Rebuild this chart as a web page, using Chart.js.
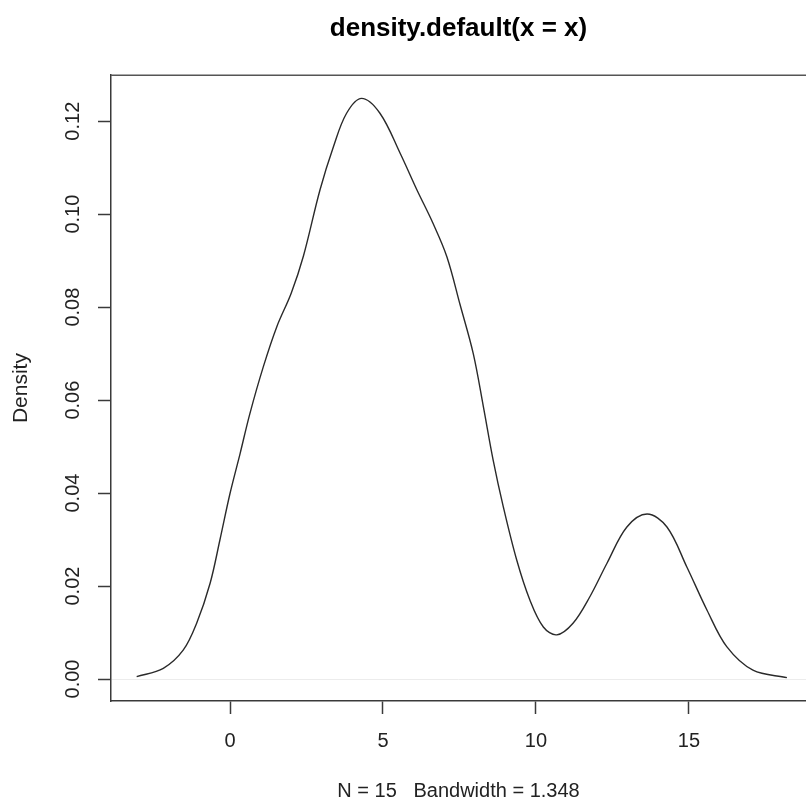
<!DOCTYPE html>
<html>
<head>
<meta charset="utf-8">
<script src="https://cdn.jsdelivr.net/npm/chart.js@4/dist/chart.umd.min.js"></script>
<style>
  html, body { margin: 0; padding: 0; background: #fff; overflow: hidden; }
  #wrap { width: 806px; height: 802px; position: relative; }
</style>
</head>
<body>
<div id="wrap"><canvas id="c" width="806" height="802"></canvas></div>
<script>
// ---- data ----
const densityX = [-3.05, -2.18, -1.53, -1.09, -0.65, -0.33, 0.00, 0.33, 0.65, 1.09, 1.53, 2.00, 2.40, 2.94, 3.38, 3.81, 4.30,
                  4.90, 5.56, 6.11, 6.63, 7.09, 7.52, 7.95, 8.28, 8.60, 8.93, 9.37, 9.80, 10.24, 10.68,
                  11.21, 11.76, 12.32, 12.97, 13.63, 14.28, 14.93, 15.59, 16.24, 17.09, 18.20];
const densityY = [0.0005, 0.0023, 0.0062, 0.0120, 0.0206, 0.0299, 0.0399, 0.0485, 0.0571, 0.0672, 0.0758, 0.0830, 0.0910, 0.1052, 0.1145, 0.1217, 0.1249,
                  0.1217, 0.1131, 0.1052, 0.0981, 0.0908, 0.0805, 0.0700, 0.0586, 0.0471, 0.0371, 0.0256, 0.0170, 0.0112, 0.0095,
                  0.0120, 0.0177, 0.0249, 0.0327, 0.0355, 0.0327, 0.0241, 0.0148, 0.0069, 0.0019, 0.0003];
const xTickValues = [0, 5, 10, 15];
const yTickValues = [0, 0.02, 0.04, 0.06, 0.08, 0.10, 0.12];
const yTickLabels = ['0.00', '0.02', '0.04', '0.06', '0.08', '0.10', '0.12'];
const chartTitle = 'density.default(x = x)';
const xAxisTitle = 'N = 15   Bandwidth = 1.348';
const yAxisTitle = 'Density';

const FONT = "'Liberation Sans', Arial, Helvetica, sans-serif";
const AXIS = '#3a3a3a';

const points = densityX.map((x, i) => ({ x: x, y: densityY[i] }));

const topBorder = {
  id: 'topBorder',
  afterDraw(chart) {
    const { ctx, chartArea } = chart;
    ctx.save();
    ctx.strokeStyle = '#555';
    ctx.lineWidth = 1.5;
    ctx.beginPath();
    ctx.moveTo(chartArea.left, chartArea.top);
    ctx.lineTo(chartArea.right, chartArea.top);
    ctx.stroke();
    ctx.restore();
  }
};

new Chart(document.getElementById('c'), {
  type: 'line',
  data: {
    datasets: [{
      data: points,
      borderColor: '#2a2a2a',
      borderWidth: 1.4,
      pointRadius: 0,
      fill: false,
      tension: 0.35
    }]
  },
  plugins: [topBorder],
  options: {
    responsive: false,
    animation: false,
    devicePixelRatio: 1,
    layout: { padding: 0 },
    plugins: {
      legend: { display: false },
      tooltip: { enabled: false },
      title: {
        display: true,
        fullSize: false,
        text: chartTitle,
        color: '#000',
        font: { family: FONT, size: 26, weight: 'bold' },
        padding: { top: 13, bottom: 31 }
      }
    },
    scales: {
      x: {
        type: 'linear',
        min: -3.889,
        max: 18.824,
        afterBuildTicks(scale) { scale.ticks = xTickValues.map(v => ({ value: v })); },
        afterFit(scale) { scale.height = 101; },
        ticks: {
          color: '#222',
          font: { family: FONT, size: 20 },
          padding: 15,
          maxRotation: 0,
          autoSkip: false,
          callback: (v) => String(v)
        },
        grid: {
          drawOnChartArea: false,
          drawTicks: true,
          tickLength: 13,
          tickColor: AXIS,
          tickWidth: 1.5
        },
        border: { display: true, color: AXIS, width: 1.5 },
        title: {
          display: true,
          text: xAxisTitle,
          color: '#222',
          font: { family: FONT, size: 20, lineHeight: 1.05 },
          padding: { top: 0, bottom: 0 }
        }
      },
      y: {
        type: 'linear',
        min: -0.00473,
        max: 0.12989,
        afterBuildTicks(scale) { scale.ticks = yTickValues.map(v => ({ value: v })); },
        afterFit(scale) { scale.width = 111; },
        ticks: {
          color: '#222',
          font: { family: FONT, size: 20 },
          padding: 5,
          minRotation: 90,
          maxRotation: 90,
          crossAlign: 'center',
          autoSkip: false,
          callback: (v, i) => yTickLabels[i]
        },
        grid: {
          drawOnChartArea: true,
          drawTicks: true,
          tickLength: 13,
          color: (ctx) => (ctx.tick && ctx.tick.value === 0) ? '#ececec' : 'rgba(0,0,0,0)',
          tickColor: AXIS,
          tickWidth: 1.5
        },
        border: { display: true, color: AXIS, width: 1.5 },
        title: {
          display: true,
          text: yAxisTitle,
          color: '#222',
          font: { family: FONT, size: 21 },
          padding: { top: 9, bottom: 0 }
        }
      }
    }
  }
});
</script>
</body>
</html>
